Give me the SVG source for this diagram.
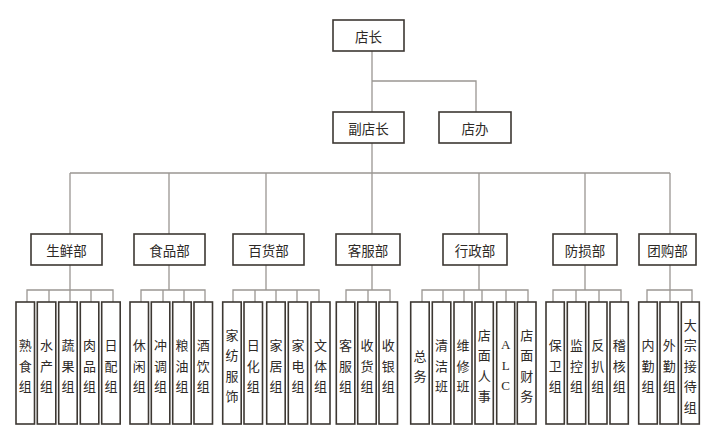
<svg xmlns="http://www.w3.org/2000/svg" width="717" height="441" viewBox="0 0 717 441">
<style>
.box{fill:#fff;stroke:#3d3833;stroke-width:1.6}
.ln{fill:none;stroke:#9a9692;stroke-width:1.3}
.t{font-family:"Noto Sans CJK SC","Noto Sans",sans-serif;font-size:13.5px;fill:#2e2a27;text-anchor:middle;dominant-baseline:central}
.v{font-family:"Noto Sans CJK SC","Noto Sans",sans-serif;font-size:13px;fill:#2e2a27;text-anchor:middle;dominant-baseline:central}
.lat{font-family:"Liberation Serif",serif;font-size:13px}
</style>
<rect width="717" height="441" fill="#fff"/>
<g id="connectors">
<path class="ln" d="M372,51V112M372,81H476V112M372,143V173M70,173H670M70,173V234M169,173V234M266,173V234M372,173V234M479,173V234M585,173V234M670,173V234"/>
<path class="ln" d="M70,265V290M27,302V290H113V302M49,290V302M70,290V302M91,290V302"/>
<path class="ln" d="M169,265V290M141,302V290H205V302M163,290V302M184,290V302"/>
<path class="ln" d="M266,265V290M233,302V290H319V302M255,290V302M276,290V302M297,290V302"/>
<path class="ln" d="M372,265V290M346,302V290H390V302M368,290V302"/>
<path class="ln" d="M479,265V290M422,302V290H528V302M443,290V302M464,290V302M482,290V302M506,290V302"/>
<path class="ln" d="M585,265V290M553,302V290H621V302M576,290V302M599,290V302"/>
<path class="ln" d="M670,265V290M647,302V290H692V302M670,290V302"/>
</g>
<g id="n-dianzhang"><rect class="box" x="333" y="20" width="71" height="31"/><text class="t" x="368.5" y="35.5">店长</text></g>
<g id="n-fudianzhang"><rect class="box" x="333" y="112" width="71" height="31"/><text class="t" x="368.5" y="127.5">副店长</text></g>
<g id="n-dianban"><rect class="box" x="439" y="112" width="72" height="31"/><text class="t" x="475" y="127.5">店办</text></g>
<g id="d-shengxian"><rect class="box" x="31" y="234" width="71" height="31"/><text class="t" x="66.5" y="249.5">生鲜部</text></g>
<g id="d-shipin"><rect class="box" x="134" y="234" width="71" height="31"/><text class="t" x="169.5" y="249.5">食品部</text></g>
<g id="d-baihuo"><rect class="box" x="233" y="234" width="71" height="31"/><text class="t" x="268.5" y="249.5">百货部</text></g>
<g id="d-kefu"><rect class="box" x="336" y="234" width="64" height="31"/><text class="t" x="368" y="249.5">客服部</text></g>
<g id="d-xingzheng"><rect class="box" x="443" y="234" width="64" height="31"/><text class="t" x="475" y="249.5">行政部</text></g>
<g id="d-fangsun"><rect class="box" x="553" y="234" width="64" height="31"/><text class="t" x="585" y="249.5">防损部</text></g>
<g id="d-tuangou"><rect class="box" x="639" y="234" width="57" height="31"/><text class="t" x="667.5" y="249.5">团购部</text></g>
<g id="l1"><rect class="box" x="16" y="302" width="18.5" height="122"/><text class="v" x="25.3"><tspan x="25.3" y="344">熟</tspan><tspan x="25.3" y="364.5">食</tspan><tspan x="25.3" y="385">组</tspan></text></g>
<g id="l2"><rect class="box" x="37.3" y="302" width="18.5" height="122"/><text class="v"><tspan x="46.5" y="344">水</tspan><tspan x="46.5" y="364.5">产</tspan><tspan x="46.5" y="385">组</tspan></text></g>
<g id="l3"><rect class="box" x="58.7" y="302" width="18.5" height="122"/><text class="v"><tspan x="68" y="344">蔬</tspan><tspan x="68" y="364.5">果</tspan><tspan x="68" y="385">组</tspan></text></g>
<g id="l4"><rect class="box" x="80.3" y="302" width="18.5" height="122"/><text class="v"><tspan x="89.5" y="344">肉</tspan><tspan x="89.5" y="364.5">品</tspan><tspan x="89.5" y="385">组</tspan></text></g>
<g id="l5"><rect class="box" x="101.7" y="302" width="18.5" height="122"/><text class="v"><tspan x="111" y="344">日</tspan><tspan x="111" y="364.5">配</tspan><tspan x="111" y="385">组</tspan></text></g>
<g id="l6"><rect class="box" x="130" y="302" width="18.5" height="122"/><text class="v"><tspan x="139.3" y="344">休</tspan><tspan x="139.3" y="364.5">闲</tspan><tspan x="139.3" y="385">组</tspan></text></g>
<g id="l7"><rect class="box" x="151.3" y="302" width="18.5" height="122"/><text class="v"><tspan x="160.6" y="344">冲</tspan><tspan x="160.6" y="364.5">调</tspan><tspan x="160.6" y="385">组</tspan></text></g>
<g id="l8"><rect class="box" x="172.7" y="302" width="18.5" height="122"/><text class="v"><tspan x="182" y="344">粮</tspan><tspan x="182" y="364.5">油</tspan><tspan x="182" y="385">组</tspan></text></g>
<g id="l9"><rect class="box" x="194" y="302" width="18.5" height="122"/><text class="v"><tspan x="203.2" y="344">酒</tspan><tspan x="203.2" y="364.5">饮</tspan><tspan x="203.2" y="385">组</tspan></text></g>
<g id="l10"><rect class="box" x="222.7" y="302" width="18.5" height="122"/><text class="v"><tspan x="232" y="333.5">家</tspan><tspan x="232" y="354">纺</tspan><tspan x="232" y="374.5">服</tspan><tspan x="232" y="395">饰</tspan></text></g>
<g id="l11"><rect class="box" x="244" y="302" width="18.5" height="122"/><text class="v"><tspan x="253.2" y="344">日</tspan><tspan x="253.2" y="364.5">化</tspan><tspan x="253.2" y="385">组</tspan></text></g>
<g id="l12"><rect class="box" x="266.7" y="302" width="18.5" height="122"/><text class="v"><tspan x="276" y="344">家</tspan><tspan x="276" y="364.5">居</tspan><tspan x="276" y="385">组</tspan></text></g>
<g id="l13"><rect class="box" x="288.3" y="302" width="19.3" height="122"/><text class="v"><tspan x="298" y="344">家</tspan><tspan x="298" y="364.5">电</tspan><tspan x="298" y="385">组</tspan></text></g>
<g id="l14"><rect class="box" x="311" y="302" width="19" height="122"/><text class="v"><tspan x="320.5" y="344">文</tspan><tspan x="320.5" y="364.5">体</tspan><tspan x="320.5" y="385">组</tspan></text></g>
<g id="l15"><rect class="box" x="336.3" y="302" width="18.5" height="122"/><text class="v"><tspan x="345.5" y="344">客</tspan><tspan x="345.5" y="364.5">服</tspan><tspan x="345.5" y="385">组</tspan></text></g>
<g id="l16"><rect class="box" x="357.7" y="302" width="18.5" height="122"/><text class="v"><tspan x="367" y="344">收</tspan><tspan x="367" y="364.5">货</tspan><tspan x="367" y="385">组</tspan></text></g>
<g id="l17"><rect class="box" x="379" y="302" width="18.5" height="122"/><text class="v"><tspan x="388.2" y="344">收</tspan><tspan x="388.2" y="364.5">银</tspan><tspan x="388.2" y="385">组</tspan></text></g>
<g id="l18"><rect class="box" x="410.7" y="302" width="18.5" height="122"/><text class="v"><tspan x="420" y="355">总</tspan><tspan x="420" y="375">务</tspan></text></g>
<g id="l19"><rect class="box" x="432.3" y="302" width="18.5" height="122"/><text class="v"><tspan x="441.6" y="344">清</tspan><tspan x="441.6" y="364.5">洁</tspan><tspan x="441.6" y="385">班</tspan></text></g>
<g id="l20"><rect class="box" x="454" y="302" width="18" height="122"/><text class="v"><tspan x="463" y="344">维</tspan><tspan x="463" y="364.5">修</tspan><tspan x="463" y="385">班</tspan></text></g>
<g id="l21"><rect class="box" x="475" y="302" width="18.3" height="122"/><text class="v"><tspan x="484.2" y="333.5">店</tspan><tspan x="484.2" y="354">面</tspan><tspan x="484.2" y="374.5">人</tspan><tspan x="484.2" y="395">事</tspan></text></g>
<g id="l22"><rect class="box" x="496.7" y="302" width="18" height="122"/><text class="v lat"><tspan x="505.7" y="344">A</tspan><tspan x="505.7" y="364.5">L</tspan><tspan x="505.7" y="385">C</tspan></text></g>
<g id="l23"><rect class="box" x="517.3" y="302" width="18.7" height="122"/><text class="v"><tspan x="526.7" y="333.5">店</tspan><tspan x="526.7" y="354">面</tspan><tspan x="526.7" y="374.5">财</tspan><tspan x="526.7" y="395">务</tspan></text></g>
<g id="l24"><rect class="box" x="546" y="302" width="18.3" height="122"/><text class="v"><tspan x="555.2" y="344">保</tspan><tspan x="555.2" y="364.5">卫</tspan><tspan x="555.2" y="385">组</tspan></text></g>
<g id="l25"><rect class="box" x="567.3" y="302" width="18.4" height="122"/><text class="v"><tspan x="576.5" y="344">监</tspan><tspan x="576.5" y="364.5">控</tspan><tspan x="576.5" y="385">组</tspan></text></g>
<g id="l26"><rect class="box" x="588.7" y="302" width="18.3" height="122"/><text class="v"><tspan x="597.8" y="344">反</tspan><tspan x="597.8" y="364.5">扒</tspan><tspan x="597.8" y="385">组</tspan></text></g>
<g id="l27"><rect class="box" x="610" y="302" width="18.3" height="122"/><text class="v"><tspan x="619.2" y="344">稽</tspan><tspan x="619.2" y="364.5">核</tspan><tspan x="619.2" y="385">组</tspan></text></g>
<g id="l28"><rect class="box" x="638.7" y="302" width="18.6" height="122"/><text class="v"><tspan x="648" y="344">内</tspan><tspan x="648" y="364.5">勤</tspan><tspan x="648" y="385">组</tspan></text></g>
<g id="l29"><rect class="box" x="660" y="302" width="18.3" height="122"/><text class="v"><tspan x="669.2" y="344">外</tspan><tspan x="669.2" y="364.5">勤</tspan><tspan x="669.2" y="385">组</tspan></text></g>
<g id="l30"><rect class="box" x="681.3" y="302" width="18" height="122"/><text class="v"><tspan x="690.3" y="323.5">大</tspan><tspan x="690.3" y="344">宗</tspan><tspan x="690.3" y="364.5">接</tspan><tspan x="690.3" y="385">待</tspan><tspan x="690.3" y="405.5">组</tspan></text></g>
</svg>
